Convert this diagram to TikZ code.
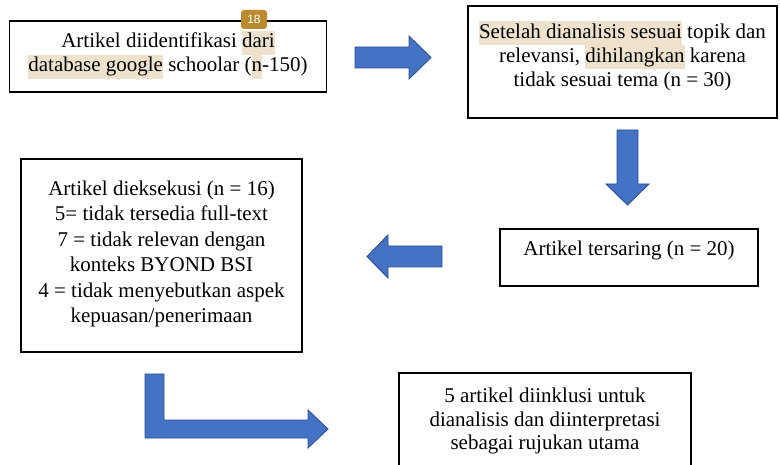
\documentclass[tikz,border=0pt]{standalone}
\usepackage{fontspec}
\setmainfont{Liberation Serif}
\newfontfamily\badgefont{Liberation Sans}
\definecolor{hlc}{RGB}{238,226,204}
\definecolor{arrfill}{RGB}{68,114,196}
\definecolor{arrdraw}{RGB}{47,82,143}
\definecolor{badgec}{RGB}{187,138,48}
\newcommand\hlword[1]{{\setlength{\fboxsep}{0pt}\colorbox{hlc}{\strut #1}}}
\tikzset{
  boxn/.style={draw=black, line width=1.1pt, rectangle, inner sep=0pt},
  txt/.style={align=center, font=\fontsize{21}{24}\selectfont, inner sep=0pt},
  blockarrow/.style={fill=arrfill, draw=arrdraw, line width=0.9pt, line join=miter},
}
\begin{document}
\begin{tikzpicture}[x=1pt, y=-1pt]
\useasboundingbox (0,0) rectangle (780,465);
\clip (0,0) rectangle (780,465);
\fill[white] (0,0) rectangle (780,465);

% boxes
\node[boxn, minimum width=317pt, minimum height=71pt] (b1) at (168,56.5) {};
\node[boxn, minimum width=309pt, minimum height=112pt] (b2) at (622.5,62) {};
\node[boxn, minimum width=281pt, minimum height=193pt] (b3) at (161.5,255.5) {};
\node[boxn, minimum width=258pt, minimum height=57pt] (b4) at (629,257.5) {};
\node[boxn, minimum width=292pt, minimum height=102pt] (b5) at (545,424) {};

% texts
\node[txt] (t1) at (168,55) {Artikel diidentifikasi \hlword{dari}\\\hlword{database google} schoolar (\hlword{n}-150)};
\node[txt] (t2) at (622.5,56) {\hlword{Setelah dianalisis sesuai} topik dan\\relevansi, \hlword{dihilangkan} karena\\tidak sesuai tema (n = 30)};
\node[txt, font=\fontsize{21}{25.5}\selectfont] (t3) at (161.5,254) {Artikel dieksekusi (n = 16)\\5= tidak tersedia full-text\\7 = tidak relevan dengan\\konteks BYOND BSI\\4 = tidak menyebutkan aspek\\kepuasan/penerimaan};
\node[txt] (t4) at (629,250) {Artikel tersaring (n = 20)};
\node[txt, font=\fontsize{21}{23.5}\selectfont] (t5) at (545,421) {5 artikel diinklusi untuk\\dianalisis dan diinterpretasi\\sebagai rujukan utama};

% badge
\node[fill=badgec, rounded corners=3pt, minimum width=26pt, minimum height=19pt, inner sep=0pt, text=white, font=\badgefont\fontsize{12}{12}\selectfont] (badge) at (254,19.5) {18};

% block arrows
\draw[blockarrow] (355,47) -- (409,47) -- (409,36) -- (431,57.5) -- (409,79) -- (409,68) -- (355,68) -- cycle;
\draw[blockarrow] (617,130) -- (638,130) -- (638,184) -- (649,184) -- (627.5,205) -- (606,184) -- (617,184) -- cycle;
\draw[blockarrow] (442,246) -- (388,246) -- (388,235) -- (367,256.5) -- (388,278) -- (388,267) -- (442,267) -- cycle;
\draw[blockarrow] (145,374) -- (164,374) -- (164,420) -- (308,420) -- (308,410) -- (328,429) -- (308,448) -- (308,438) -- (145,438) -- cycle;
\end{tikzpicture}
\end{document}
